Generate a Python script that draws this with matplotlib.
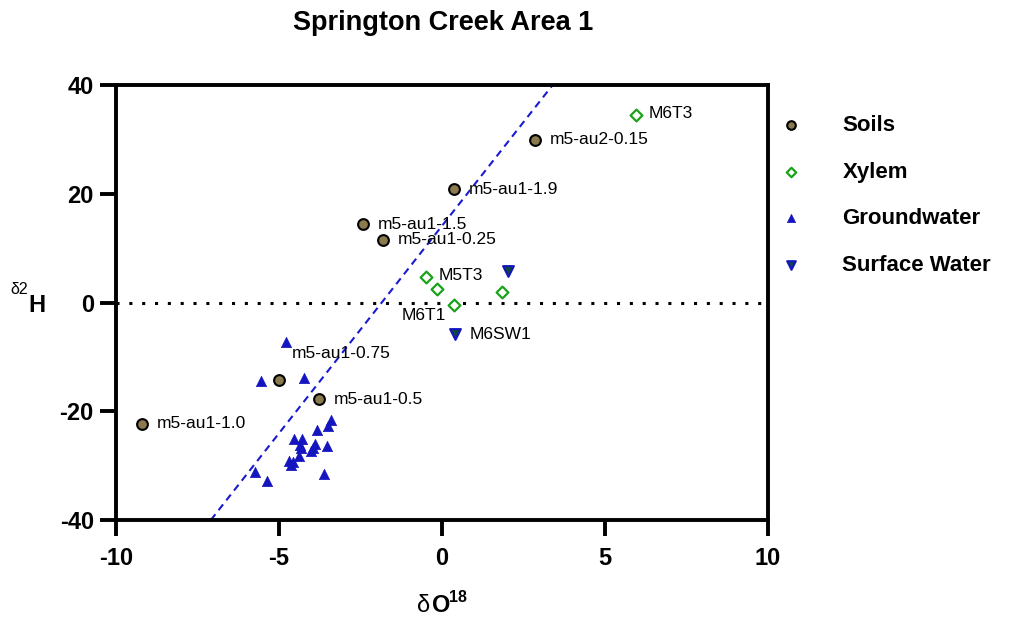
import matplotlib
matplotlib.use("Agg")
import matplotlib.pyplot as plt
import numpy as np

plt.rcParams['font.family'] = ['Liberation Sans', 'DejaVu Sans']

# ---- data ----
soil_names = ["m5-au2-0.15", "m5-au1-1.9", "m5-au1-1.5", "m5-au1-0.25",
              "m5-au1-0.75", "m5-au1-0.5", "m5-au1-1.0"]
soil_x = [2.85, 0.37, -2.42, -1.81, -5.0, -3.77, -9.2]
soil_y = [29.9, 20.8, 14.4, 11.5, -14.2, -17.8, -22.3]

xylem_names = ["M6T3", "M5T3", "", "M6T1", ""]
xylem_x = [5.95, -0.49, -0.15, 0.37, 1.85]
xylem_y = [34.5, 4.7, 2.5, -0.4, 2.0]

gw_x = [-4.8, -5.56, -4.22, -3.41, -3.49, -3.82, -4.55, -4.28, -4.36, -4.31,
        -3.9, -3.97, -4.03, -3.54, -4.38, -4.69, -4.56, -4.62, -5.74, -5.36, -3.61]
gw_y = [-7.3, -14.4, -13.8, -21.6, -22.8, -23.4, -25.1, -25.1, -26.2, -26.8,
        -26.1, -26.7, -27.3, -26.3, -28.2, -29.1, -29.4, -29.8, -31.2, -32.9, -31.6]

sw_names = ["", "M6SW1"]
sw_x = [2.02, 0.4]
sw_y = [5.8, -5.8]

lmwl_slope = 7.63
lmwl_intercept = 14.1

xticks = [-10, -5, 0, 5, 10]
yticks = [-40, -20, 0, 20, 40]

# ---- figure ----
W, H = 1009, 619
fig = plt.figure(figsize=(W / 100, H / 100), dpi=100)
ax = fig.add_axes([116 / W, 1 - 520 / H, (768 - 116) / W, (520 - 85) / H])
ax.set_xlim(-10, 10)
ax.set_ylim(-40, 40)

# zero line
ax.plot([-10, 10], [0, 0], linestyle=(0, (1, 3.2)), color='black', lw=2.2, zorder=1)

# LMWL dashed line (clipped to axes)
lx = np.array([(-40 - lmwl_intercept) / lmwl_slope, (40 - lmwl_intercept) / lmwl_slope])
ax.plot(lx, lmwl_slope * lx + lmwl_intercept, linestyle=(0, (3.5, 2.5)),
        color='#1a1ad0', lw=1.5, zorder=2)

ax.scatter(soil_x, soil_y, s=60, marker='o', facecolor='#8b7a4e', edgecolor='black',
           linewidth=1.5, zorder=4, label='Soils')
ax.scatter(xylem_x, xylem_y, s=36, marker='D', facecolor='white', edgecolor='#1aa31a',
           linewidth=1.6, zorder=4, label='Xylem')
ax.scatter(gw_x, gw_y, s=55, marker='^', facecolor='#1515c0', edgecolor='#1515c0',
           linewidth=0.5, zorder=3, label='Groundwater')
ax.scatter(sw_x, sw_y, s=60, marker='v', facecolor='#0a4a3a', edgecolor='#1515c0',
           linewidth=1.5, zorder=4, label='Surface Water')

lab_kw = dict(fontsize=12.5, va='center', zorder=5)
soil_off = {"m5-au2-0.15": (0.45, 0), "m5-au1-1.9": (0.45, 0), "m5-au1-1.5": (0.45, 0),
            "m5-au1-0.25": (0.45, 0), "m5-au1-0.75": (0.4, 4.8),
            "m5-au1-0.5": (0.45, 0), "m5-au1-1.0": (0.45, 0)}
for n, x, y in zip(soil_names, soil_x, soil_y):
    dx, dy = soil_off[n]
    ax.text(x + dx, y + dy, n, ha='left', **lab_kw)
for n, x, y in zip(xylem_names, xylem_x, xylem_y):
    if n == "M6T1":
        ax.text(x - 0.25, y - 2.0, n, ha='right', **lab_kw)
    elif n:
        ax.text(x + 0.4, y + 0.3, n, ha='left', **lab_kw)
for n, x, y in zip(sw_names, sw_x, sw_y):
    if n:
        ax.text(x + 0.45, y, n, ha='left', **lab_kw)

for s in ax.spines.values():
    s.set_linewidth(2.8)
ax.set_xticks(xticks)
ax.set_yticks(yticks)
ax.set_xticklabels([str(v) for v in xticks], fontsize=17, fontweight='bold')
ax.set_yticklabels([str(v) for v in yticks], fontsize=17, fontweight='bold')
ax.tick_params(direction='out', length=11.5, width=2.8)
ax.tick_params(axis='x', pad=8)
ax.tick_params(axis='y', pad=4.5)

fig.text(443 / W, 1 - 23 / H, "Springton Creek Area 1", fontsize=19.5, fontweight='bold',
         ha='center', va='center')

# axis labels
fig.text(10 / W, 1 - 294 / H, "δ2", fontsize=11.5, ha='left', va='baseline')
fig.text(28 / W, 1 - 312 / H, "H", fontsize=17, fontweight='bold', ha='left', va='baseline')
fig.text(417 / W, 1 - 612 / H, "δ", fontsize=17, ha='left', va='baseline')
fig.text(432 / W, 1 - 612 / H, "O", fontsize=17, fontweight='bold', ha='left', va='baseline')
fig.text(449 / W, 1 - 602 / H, "18", fontsize=11.5, fontweight='bold', ha='left', va='baseline')

leg = fig.legend(loc='upper left', bbox_to_anchor=(769 / W, 1 - 115 / H), frameon=False,
                 prop={'weight': 'bold', 'size': 16}, labelspacing=1.15,
                 handletextpad=1.3, markerscale=0.8, borderaxespad=0, borderpad=0)

fig.savefig("out.png", dpi=100)
